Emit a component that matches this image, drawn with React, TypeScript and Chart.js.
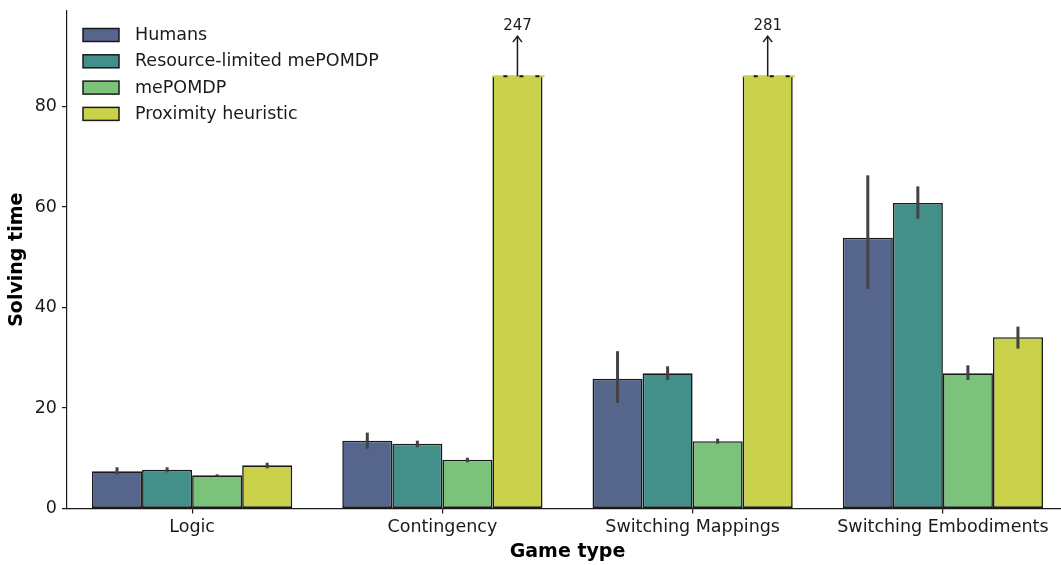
import React, { useEffect, useRef } from "react";
import { Chart, registerables } from "chart.js";

Chart.register(...registerables);

// Mean solving time per game type, one array per agent
const GAME_TYPES = ["Logic", "Contingency", "Switching Mappings", "Switching Embodiments"];
const SERIES_NAMES = ["Humans", "Resource-limited mePOMDP", "mePOMDP", "Proximity heuristic"];
const HUMANS = [7.4, 13.5, 25.8, 53.9];
const RESOURCE_LIMITED = [7.7, 12.9, 26.9, 60.8];
const MEPOMDP = [6.6, 9.7, 13.4, 26.9];
const PROXIMITY = [8.6, 247, 281, 34.1];

// Confidence intervals [low, high]; null where the bar runs off the axis
const HUMANS_CI = [[6.8, 8.2], [11.9, 15.1], [21.0, 31.3], [43.7, 66.3]];
const RESOURCE_LIMITED_CI = [[7.2, 8.2], [12.2, 13.5], [25.6, 28.3], [57.7, 64.1]];
const MEPOMDP_CI = [[6.4, 6.8], [9.2, 10.1], [12.9, 13.9], [25.6, 28.5]];
const PROXIMITY_CI = [[8.0, 9.1], null, null, [31.8, 36.2]];

const Y_TICKS = [0, 20, 40, 60, 80];
const Y_MAX = 99;
// Bars taller than this are cut off and annotated with their true value
const BREAK_AT = 86;
const ARROW_RISE = 8;

const SERIES_VALUES = [HUMANS, RESOURCE_LIMITED, MEPOMDP, PROXIMITY];
const SERIES_CI = [HUMANS_CI, RESOURCE_LIMITED_CI, MEPOMDP_CI, PROXIMITY_CI];
const COLORS = ["#56658c", "#43908a", "#7bc27b", "#c9d24a"];

const FONT = "'DejaVu Sans', Verdana, sans-serif";
const INK = "#1a1a1a";

const errorBarPlugin = {
  id: "errorBars",
  afterDatasetsDraw(chart: any) {
    const { ctx } = chart;
    const y = chart.scales.y;
    ctx.save();
    ctx.strokeStyle = "#424242";
    ctx.lineWidth = 3;
    ctx.lineCap = "butt";
    SERIES_CI.forEach((cis, i) => {
      const meta = chart.getDatasetMeta(i);
      cis.forEach((ci: number[] | null, j: number) => {
        if (!ci) return;
        const el = meta.data[j];
        ctx.beginPath();
        ctx.moveTo(el.x, y.getPixelForValue(ci[0]));
        ctx.lineTo(el.x, y.getPixelForValue(ci[1]));
        ctx.stroke();
      });
    });
    ctx.restore();
  },
};

const brokenBarPlugin = {
  id: "brokenBars",
  afterDatasetsDraw(chart: any) {
    const { ctx } = chart;
    const y = chart.scales.y;
    SERIES_VALUES.forEach((values, i) => {
      const meta = chart.getDatasetMeta(i);
      values.forEach((v, j) => {
        if (v <= BREAK_AT) return;
        const el = meta.data[j];
        const left = el.x - el.width / 2;
        const right = el.x + el.width / 2;
        const top = el.y;
        ctx.save();
        // dashed cut edge
        ctx.lineWidth = 2;
        ctx.strokeStyle = COLORS[i];
        ctx.beginPath();
        ctx.moveTo(left, top);
        ctx.lineTo(right + 2, top);
        ctx.stroke();
        ctx.strokeStyle = INK;
        ctx.setLineDash([4, 12]);
        ctx.lineDashOffset = -11;
        ctx.beginPath();
        ctx.moveTo(left, top);
        ctx.lineTo(right, top);
        ctx.stroke();
        ctx.setLineDash([]);
        // arrow pointing to the true value
        const tipY = y.getPixelForValue(BREAK_AT + ARROW_RISE);
        ctx.lineWidth = 1.5;
        ctx.beginPath();
        ctx.moveTo(el.x, top);
        ctx.lineTo(el.x, tipY);
        ctx.stroke();
        ctx.beginPath();
        ctx.moveTo(el.x - 4.5, tipY + 6);
        ctx.lineTo(el.x, tipY);
        ctx.lineTo(el.x + 4.5, tipY + 6);
        ctx.stroke();
        ctx.fillStyle = INK;
        ctx.font = `15px ${FONT}`;
        ctx.textAlign = "center";
        ctx.textBaseline = "bottom";
        ctx.fillText(String(v), el.x, tipY - 3);
        ctx.restore();
      });
    });
  },
};

const legendPlugin = {
  id: "boxLegend",
  afterDraw(chart: any) {
    const { ctx, chartArea } = chart;
    const x0 = chartArea.left + 16;
    const y0 = chartArea.top + 24;
    const rowGap = 26.3;
    ctx.save();
    ctx.font = `17.5px ${FONT}`;
    ctx.textBaseline = "middle";
    ctx.textAlign = "left";
    SERIES_NAMES.forEach((name, i) => {
      const cy = y0 + i * rowGap;
      ctx.fillStyle = COLORS[i];
      ctx.fillRect(x0, cy - 6.5, 36, 13);
      ctx.lineWidth = 1.5;
      ctx.strokeStyle = INK;
      ctx.strokeRect(x0, cy - 6.5, 36, 13);
      ctx.fillStyle = INK;
      ctx.fillText(name, x0 + 52, cy + 0.5);
    });
    ctx.restore();
  },
};

export default function App() {
  const canvasRef = useRef<HTMLCanvasElement | null>(null);

  useEffect(() => {
    document.body.style.margin = "0";
    document.body.style.overflow = "hidden";
    const canvas = canvasRef.current;
    if (!canvas) return;

    const chart = new Chart(canvas, {
      type: "bar",
      data: {
        labels: GAME_TYPES,
        datasets: SERIES_VALUES.map((values, i) => ({
          label: SERIES_NAMES[i],
          data: values.map((v) => Math.min(v, BREAK_AT)),
          backgroundColor: COLORS[i],
          borderColor: INK,
          borderWidth: 1.6,
          inflateAmount: 0,
          borderSkipped: (c: any) => (values[c.dataIndex] > BREAK_AT ? "end" : false),
          categoryPercentage: 0.8,
          barPercentage: 1.0,
        })),
      },
      options: {
        responsive: false,
        animation: false,
        devicePixelRatio: 1,
        layout: { padding: { top: 11, left: 0, right: 0, bottom: 0 } },
        plugins: {
          legend: { display: false },
          tooltip: { enabled: false },
        },
        scales: {
          x: {
            offset: true,
            grid: {
              display: true,
              offset: false,
              drawOnChartArea: false,
              drawTicks: true,
              tickLength: 5,
              color: INK,
              lineWidth: 1.2,
            },
            border: { display: true, color: INK, width: 1.2 },
            ticks: {
              color: INK,
              padding: 3,
              font: { family: FONT, size: 17.5 },
              maxRotation: 0,
              autoSkip: false,
            },
            title: {
              display: true,
              text: "Game type",
              color: "#000",
              font: { family: FONT, size: 19, weight: "bold" },
              padding: { top: 0, bottom: 2 },
            },
            afterFit: (scale: any) => {
              scale.height = 56.5;
              scale.paddingLeft = 0;
              scale.paddingRight = 0;
            },
          },
          y: {
            min: 0,
            max: Y_MAX,
            afterBuildTicks: (scale: any) => {
              scale.ticks = Y_TICKS.map((v) => ({ value: v }));
            },
            grid: {
              display: true,
              drawOnChartArea: false,
              drawTicks: true,
              tickLength: 5,
              color: INK,
              lineWidth: 1.2,
            },
            border: { display: true, color: INK, width: 1.2 },
            ticks: {
              color: INK,
              padding: 5,
              font: { family: FONT, size: 17.5 },
            },
            title: {
              display: true,
              text: "Solving time",
              color: "#000",
              font: { family: FONT, size: 19, weight: "bold" },
              padding: { top: 6, bottom: 0 },
            },
            afterFit: (scale: any) => {
              scale.width = 67;
              scale.paddingTop = 0;
              scale.paddingBottom = 0;
            },
          },
        },
      },
      plugins: [errorBarPlugin, brokenBarPlugin, legendPlugin],
    });

    return () => chart.destroy();
  }, []);

  return (
    <div style={{ width: 1061, height: 565, overflow: "hidden", position: "relative", background: "#fff" }}>
      <canvas ref={canvasRef} width={1068} height={565} style={{ display: "block", width: 1068, height: 565 }} />
    </div>
  );
}
